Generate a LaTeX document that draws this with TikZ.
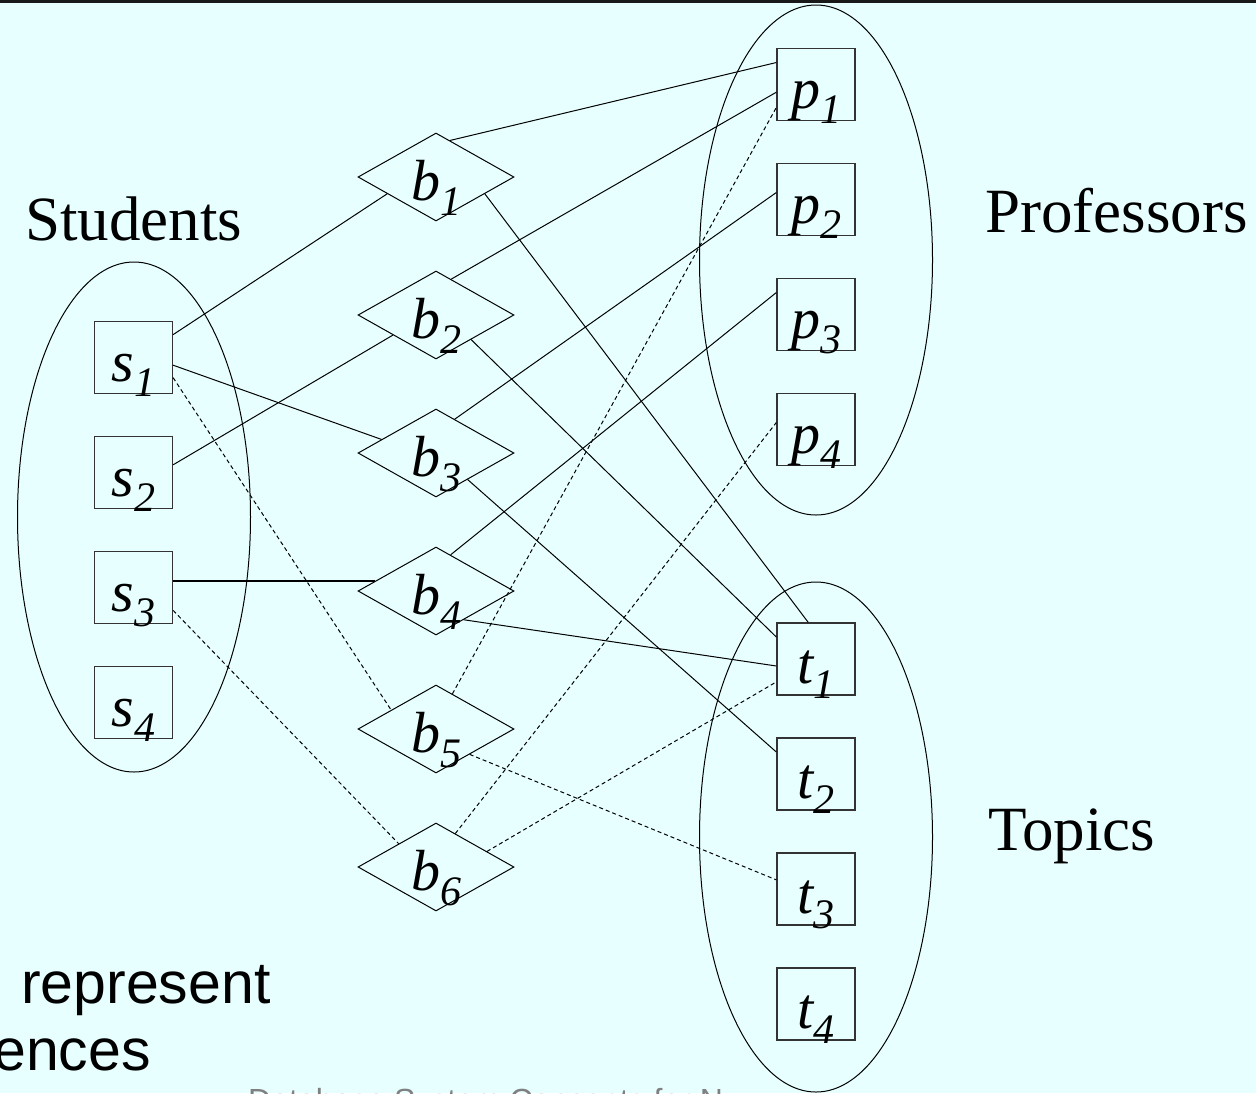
\documentclass[tikz,border=0pt]{standalone}
\usepackage{fontspec}
\setmainfont{Liberation Serif}
\newfontfamily\arialf{Liberation Sans}
\usetikzlibrary{shapes.geometric,calc}
\definecolor{bgc}{RGB}{232,255,255}
\definecolor{footgray}{RGB}{128,128,128}
\newcommand{\elab}[2]{{\fontsize{58}{60}\selectfont\itshape #1\raisebox{-15pt}{\fontsize{42}{44}\selectfont #2}}}
\begin{document}
\begin{tikzpicture}[x=1pt,y=-1pt,
  ent/.style={rectangle, draw=black!80, line width=1.3pt, minimum width=78, minimum height=72, inner sep=0},
  rel/.style={diamond, draw, line width=1pt, minimum width=156, minimum height=88, inner sep=0, aspect=1.77},
  grp/.style={ellipse, draw, line width=1pt, minimum width=233, minimum height=510, inner sep=0},
  lbl/.style={anchor=base, inner sep=0},
  conn/.style={line width=1pt},
  dconn/.style={line width=1pt, dash pattern=on 4pt off 3pt},
  title/.style={anchor=base west, inner sep=0, font=\fontsize{63}{70}\selectfont},
  sanst/.style={inner sep=0, font=\arialf\fontsize{59}{62}\selectfont}
]
\fill[bgc] (0,0) rectangle (1256,1093);
\useasboundingbox (0,0) rectangle (1256,1093);
\clip (0,0) rectangle (1256,1093);
\fill[black!90] (0,0) rectangle (1256,3);

% groups
\node[grp] (stud) at (134,517) {};
\node[grp] (prof) at (816,260) {};
\node[grp] (topi) at (816,837) {};

% titles
\node[title] (studt) at (25,240) {Students};
\node[title] (proft) at (985,232) {Professors};
\node[title] (topit) at (988,850) {Topics};

% entities
\foreach \i/\y in {1/357.5,2/472.5,3/587.5,4/702.5}{
  \node[ent] (s\i) at (133.5,\y) {};
  \node[lbl] (s\i t) at (133.5,{\y+24}) {\elab{s}{\i}};
}
\foreach \i/\y in {1/84.5,2/199.5,3/314.5,4/429.5}{
  \node[ent] (p\i) at (816,\y) {};
  \node[lbl] (p\i t) at (816,{\y+24}) {\elab{p}{\i}};
}
\foreach \i/\y in {1/659,2/774,3/889,4/1004}{
  \node[ent] (t\i) at (816,\y) {};
  \node[lbl] (t\i t) at (816,{\y+24}) {\elab{t}{\i}};
}
\foreach \i/\y in {1/177,2/315,3/453,4/591,5/729,6/867}{
  \node[rel] (b\i) at (436,\y) {};
  \node[lbl] (b\i t) at (436,{\y+23}) {\elab{b}{\i}};
}

% solid connectors
\draw[conn] (s1.30) -- (b1.199);
\draw[conn] (s1.349) -- (b3.166);
\draw[conn] (s2.11) -- (b2.205);
\draw[conn, line width=1.8pt] (b4.171) -- (b4.171 -| s3.east);
\draw[conn] (b1.69) -- (p1.151);
\draw[conn] (b1.341) -- (t1.102);
\draw[conn] (b2.67) -- (p1.191);
\draw[conn] (b2.325) -- (t1.151);
\draw[conn] (b3.61) -- (p2.170);
\draw[conn] (b3.320) -- (t2.151);
\draw[conn] (b4.68) -- (p3.151);
\draw[conn] (b4.314) -- (t1.190);

% dashed connectors
\draw[dconn] (s1.333) -- (b5.157);
\draw[dconn] (s3.330) -- (b6.148);
\draw[dconn] (b5.65) -- (p1.210);
\draw[dconn] (b5.323) -- (t3.167);
\draw[dconn] (b6.60) -- (p4.170);
\draw[dconn] (b6.17) -- (t1.210);

% partial slide text
\node[sanst, anchor=base west] (rep) at (21,1003) {represent};
\node[sanst, anchor=base east] (enc) at (151,1070) {ences};
\node[anchor=base west, inner sep=0, text=footgray, font=\arialf\fontsize{32}{34}\selectfont] (foot) at (248,1111) {Database System Concepts for N};
\end{tikzpicture}
\end{document}
